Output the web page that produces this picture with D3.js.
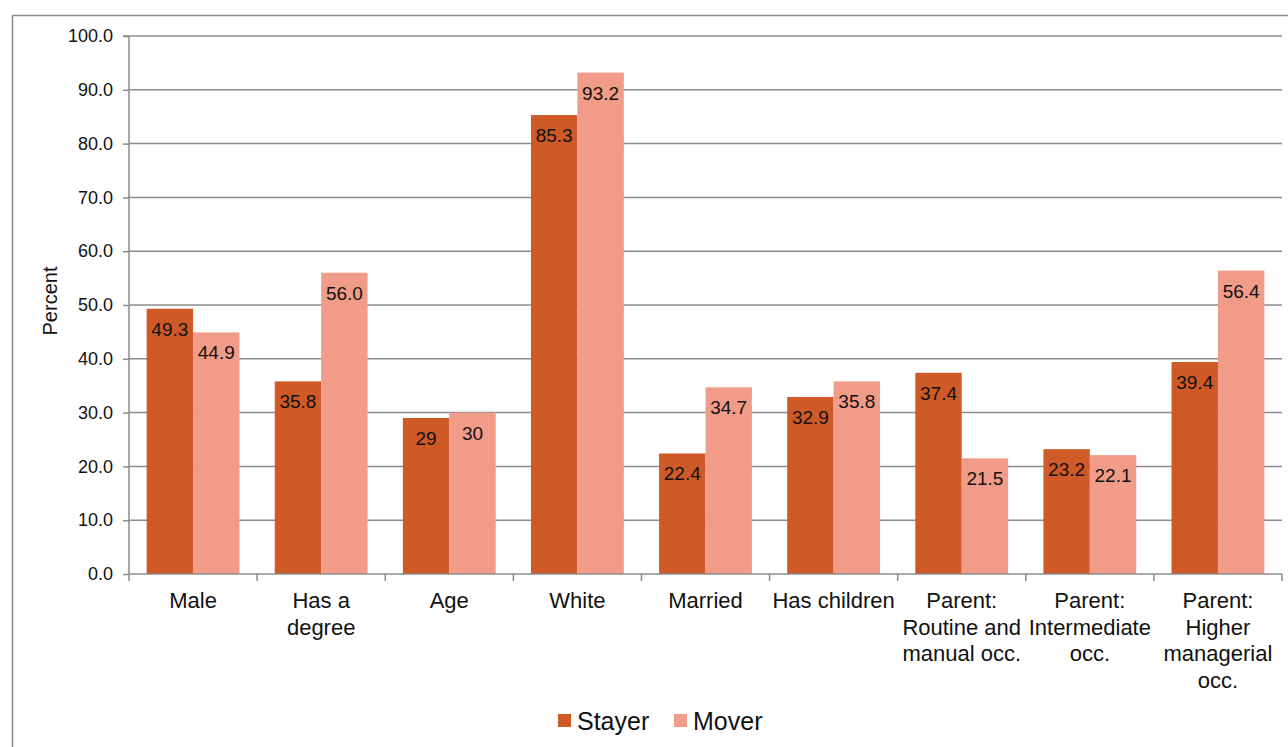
<!DOCTYPE html>
<html>
<head>
<meta charset="utf-8">
<script src="https://cdn.jsdelivr.net/npm/d3@7"></script>
<style>
  body { margin: 0; background: #fff; }
  svg { display: block; font-family: "Liberation Sans", Arial, sans-serif; }
  .grid line { stroke: #8c8c8c; stroke-width: 1.5; }
  .axis path, .axis line { stroke: #8c8c8c; stroke-width: 1.5; }
  .axis text { fill: #111; }
</style>
</head>
<body>
<svg width="1288" height="747"></svg>
<script>
const categories = [
  ["Male"],
  ["Has a", "degree"],
  ["Age"],
  ["White"],
  ["Married"],
  ["Has children"],
  ["Parent:", "Routine and", "manual occ."],
  ["Parent:", "Intermediate", "occ."],
  ["Parent:", "Higher", "managerial", "occ."]
];
const stayer = [49.3, 35.8, 29, 85.3, 22.4, 32.9, 37.4, 23.2, 39.4];
const mover = [44.9, 56.0, 30, 93.2, 34.7, 35.8, 21.5, 22.1, 56.4];
const stayerLabels = ["49.3", "35.8", "29", "85.3", "22.4", "32.9", "37.4", "23.2", "39.4"];
const moverLabels = ["44.9", "56.0", "30", "93.2", "34.7", "35.8", "21.5", "22.1", "56.4"];
const yTicks = [0, 10, 20, 30, 40, 50, 60, 70, 80, 90, 100];
const seriesNames = ["Stayer", "Mover"];
const colors = ["#cf5927", "#f19c88"];

const plot = { left: 129, right: 1282, top: 36, bottom: 574 };

const svg = d3.select("svg");

// outer chart border
svg.append("path")
  .attr("d", "M12.5,747 V15.5 H1288")
  .attr("fill", "none")
  .attr("stroke", "#8c8c8c")
  .attr("stroke-width", 1.5);

const y = d3.scaleLinear().domain([0, 100]).range([plot.bottom, plot.top]);

const x = d3.scaleBand()
  .domain(d3.range(categories.length))
  .range([plot.left, plot.right]);

const xInner = d3.scaleBand()
  .domain([0, 1])
  .range([0, x.bandwidth()])
  .paddingOuter(0.38);

// gridlines
svg.append("g")
  .attr("class", "grid")
  .selectAll("line")
  .data(yTicks.slice(1))
  .join("line")
  .attr("x1", plot.left)
  .attr("x2", plot.right)
  .attr("y1", d => y(d))
  .attr("y2", d => y(d));

// y axis
const yAxis = d3.axisLeft(y)
  .tickValues(yTicks)
  .tickFormat(d3.format(".1f"))
  .tickSize(6)
  .tickPadding(10);

svg.append("g")
  .attr("class", "axis")
  .attr("transform", `translate(${plot.left},0)`)
  .call(yAxis)
  .call(g => g.select(".domain").attr("d", `M-6,${plot.top}H0V${plot.bottom}`))
  .selectAll("text")
  .attr("font-size", 18);

svg.append("text")
  .attr("transform", "rotate(-90)")
  .attr("x", -y(50) + 4)
  .attr("y", 57)
  .attr("text-anchor", "middle")
  .attr("font-size", 20)
  .attr("fill", "#111")
  .text("Percent");

// bars
const groups = svg.append("g")
  .selectAll("g")
  .data(categories.map((c, i) => i))
  .join("g")
  .attr("transform", i => `translate(${x(i)},0)`);

const barData = i => [
  { s: 0, v: stayer[i], label: stayerLabels[i] },
  { s: 1, v: mover[i], label: moverLabels[i] }
];

groups.selectAll("rect")
  .data(barData)
  .join("rect")
  .attr("x", d => xInner(d.s))
  .attr("width", xInner.bandwidth())
  .attr("y", d => y(d.v))
  .attr("height", d => y(0) - y(d.v))
  .attr("fill", d => colors[d.s]);

groups.selectAll("text")
  .data(barData)
  .join("text")
  .attr("x", d => xInner(d.s) + xInner.bandwidth() / 2)
  .attr("y", d => y(d.v) + 27)
  .attr("text-anchor", "middle")
  .attr("font-size", 19)
  .attr("fill", "#111")
  .text(d => d.label);

// x axis
svg.append("line")
  .attr("x1", plot.left)
  .attr("x2", plot.right)
  .attr("y1", plot.bottom)
  .attr("y2", plot.bottom)
  .attr("stroke", "#8c8c8c")
  .attr("stroke-width", 1.5);

svg.append("g")
  .selectAll("line")
  .data(d3.range(categories.length + 1))
  .join("line")
  .attr("x1", i => i < categories.length ? x(i) : plot.right)
  .attr("x2", i => i < categories.length ? x(i) : plot.right)
  .attr("y1", plot.bottom)
  .attr("y2", plot.bottom + 7)
  .attr("stroke", "#8c8c8c")
  .attr("stroke-width", 1.5);

const xLabels = svg.append("g")
  .selectAll("text")
  .data(categories)
  .join("text")
  .attr("x", (c, i) => x(i) + x.bandwidth() / 2)
  .attr("y", plot.bottom + 34)
  .attr("text-anchor", "middle")
  .attr("font-size", 22)
  .attr("fill", "#111");

xLabels.selectAll("tspan")
  .data(c => c)
  .join("tspan")
  .attr("x", function() { return d3.select(this.parentNode).attr("x"); })
  .attr("dy", (d, j) => j === 0 ? 0 : 26.5)
  .text(d => d);

// legend
const legend = svg.append("g").attr("transform", "translate(558,714)");
const legendX = [0, 116];
seriesNames.forEach((name, i) => {
  legend.append("rect")
    .attr("x", legendX[i])
    .attr("y", 0)
    .attr("width", 13)
    .attr("height", 13)
    .attr("fill", colors[i]);
  legend.append("text")
    .attr("x", legendX[i] + 19)
    .attr("y", 16)
    .attr("font-size", 25)
    .attr("fill", "#111")
    .text(name);
});
</script>
</body>
</html>
